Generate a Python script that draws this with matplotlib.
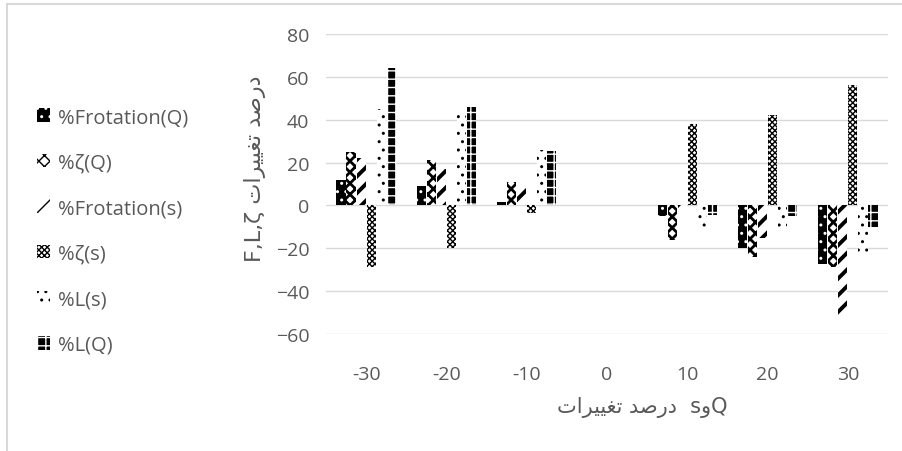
import numpy as np
import matplotlib.pyplot as plt
from matplotlib.patches import Patch, Rectangle

plt.rcParams['font.family'] = ['Open Sans', 'DejaVu Sans']

# data
categories = ['-30', '-20', '-10', '0', '10', '20', '30']
series = ['%Frotation(Q)', '%ζ(Q)', '%Frotation(s)', '%ζ(s)', '%L(s)', '%L(Q)']
frot_q = [12, 9, 1.5, 0, -5, -20, -27.5]
zeta_q = [25, 21, 11, 0, -16, -24, -28.5]
frot_s = [22, 17, 8, 0, -2, -15, -51]
zeta_s = [-28.5, -20, -3.5, 0, 38, 42, 56]
l_s = [45, 42, 26, 0, -10, -12, -23]
l_q = [64, 46, 25.5, 0, -4.5, -5, -10]
values = [frot_q, zeta_q, frot_s, zeta_s, l_s, l_q]

# excel-ish pattern fills: (face, hatch colour, hatch, hatch width)
styles = [
    ('black', 'white', '..', 1.0),
    ('white', 'black', 'xxx', 2.0),
    ('white', 'black', '//', 2.8),
    ('white', 'black', 'xxxxxx', 1.0),
    ('white', 'black', '..', 1.0),
    ('black', 'white', '++', 1.0),
]

gray = '#595959'

# arabic, already shaped and in visual order
darsad = '\uFEAA\uFEBB\uFEAD\uFEA9'
taghirat = '\uFE95\uFE8D\uFEAE\uFEF4\uFEF4\uFED0\uFE97'
vav = '\uFEED'

fig = plt.figure(figsize=(9.03, 4.52), dpi=100)
ax = fig.add_axes([326 / 903, 1 - 335 / 452, 562 / 903, 300 / 452])


def set_hw(artist, lw):
    if hasattr(artist, 'set_hatch_linewidth'):
        artist.set_hatch_linewidth(lw)


x = np.arange(len(categories))
w = 0.125
for i, (name, vals) in enumerate(zip(series, values)):
    face, hc, hatch, hw = styles[i]
    plt.rcParams['hatch.linewidth'] = hw
    bars = ax.bar(x + (i - 2.5) * w, vals, w * 0.92, color=face, edgecolor=hc,
                  hatch=hatch, linewidth=0, label=name, zorder=3)
    for b in bars:
        set_hw(b, hw)

ax.set_xlim(-0.5, len(categories) - 0.5)
ax.set_ylim(-60, 80)
ax.set_yticks(np.arange(-60, 81, 20))
ax.set_xticks(x)
ax.set_xticklabels(categories)
ax.yaxis.grid(True, color='#d9d9d9', linewidth=1, zorder=0)
ax.set_axisbelow(True)
for s in ax.spines.values():
    s.set_visible(False)
ax.tick_params(length=0, labelsize=14, labelcolor=gray)
ax.tick_params(axis='x', pad=22)
ax.tick_params(axis='y', pad=12)

fig.text(255 / 903, 1 - 169 / 452, 'F,L,ζ ' + taghirat + ' ' + darsad,
         rotation=90, ha='center', va='center', fontsize=16, color=gray,
         family=['DejaVu Sans'])
fig.text(642 / 903, 1 - 408 / 452, taghirat + ' ' + darsad + '  s' + vav + 'Q',
         ha='center', va='center', fontsize=15, color=gray,
         family=['DejaVu Sans'])

handles = []
for i, name in enumerate(series):
    face, hc, hatch, hw = styles[i]
    plt.rcParams['hatch.linewidth'] = hw
    p = Patch(facecolor=face, edgecolor=hc, hatch=hatch, linewidth=0, label=name)
    set_hw(p, hw)
    handles.append(p)
fig.legend(handles=handles, loc='upper left',
           bbox_to_anchor=(29 / 903, 1 - 100 / 452), frameon=False,
           borderaxespad=0, fontsize=14.5, labelcolor=gray, handlelength=0.65,
           handleheight=0.65, handletextpad=0.4, labelspacing=1.27)

# chart area border
fig.patches.append(Rectangle((7 / 903, -0.5), 2, 0.5 + 1 - 5 / 452,
                             transform=fig.transFigure, fill=False,
                             edgecolor='#d9d9d9', linewidth=1.5))

fig.savefig('out.png', dpi=100)
